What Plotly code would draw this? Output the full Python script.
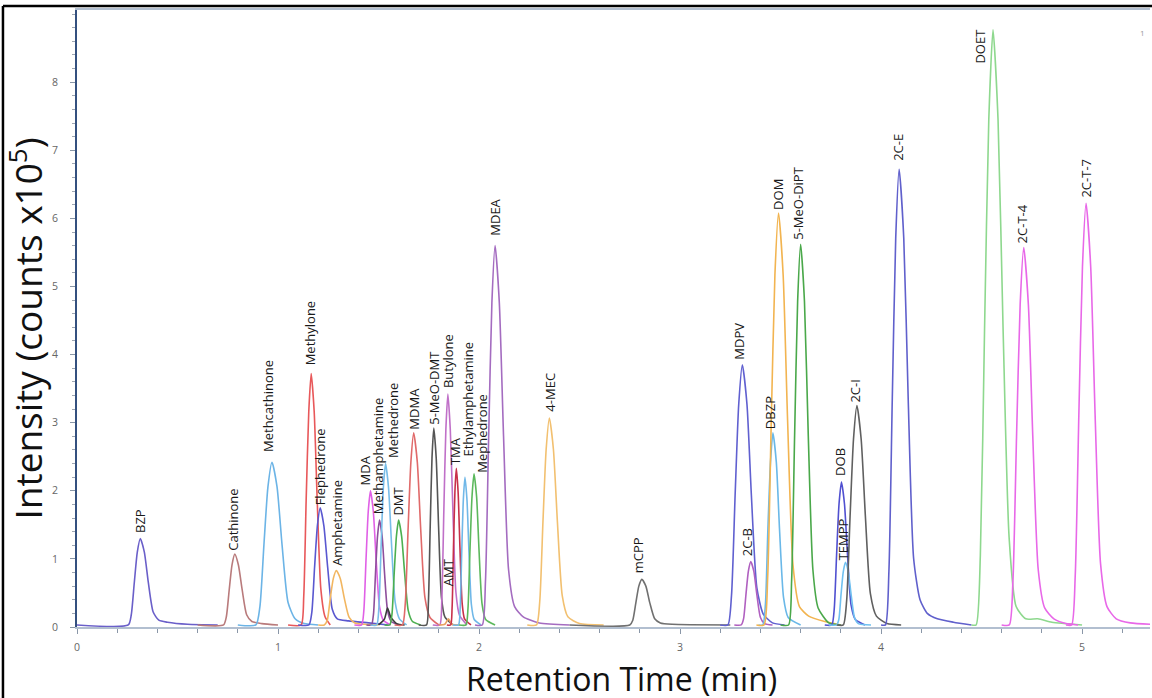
import plotly.graph_objects as go

# ---- data ----
compounds = ["BZP", "Cathinone", "Methcathinone", "Methylone", "Flephedrone", "Amphetamine",
             "MDA", "Methamphetamine", "Methedrone", "(unlabelled)", "DMT", "MDMA", "5-MeO-DMT",
             "Butylone", "AMT", "TMA", "Ethylamphetamine", "Mephedrone", "MDEA", "4-MEC", "mCPP",
             "MDPV", "2C-B", "DBZP", "DOM", "5-MeO-DiPT", "DOB", "TEMPP", "2C-I", "2C-E", "DOET",
             "2C-T-4", "2C-T-7"]

colors = ["#6a5fc9", "#b97b7c", "#6cb4e6", "#e8585a", "#5a58d0", "#f2b660",
          "#e060e6", "#8e4f9c", "#78bde8", "#3a3a3a", "#4caf50", "#e06a6a", "#555555",
          "#c070c8", "#e8a060", "#c8304a", "#70b8e8", "#5cb85c", "#a46cc0", "#f2c070", "#707070",
          "#6060d0", "#b060c0", "#6ab8e8", "#f2b450", "#4aa84a", "#5050d0", "#70c0f0", "#606060",
          "#6060cc", "#8ed88e", "#e868e8", "#e868e8"]

# retention time (min) points of each trace
times = [
    [0.0, 0.255, 0.27, 0.285, 0.30, 0.315, 0.335, 0.355, 0.379, 0.407, 0.45, 0.55, 0.7],
    [0.6, 0.729, 0.743, 0.757, 0.771, 0.785, 0.803, 0.822, 0.844, 0.87, 0.92, 1.0],
    [0.8, 0.89, 0.91, 0.93, 0.95, 0.97, 0.995, 1.02, 1.05, 1.085, 1.13, 1.2],
    [1.05, 1.115, 1.128, 1.14, 1.153, 1.165, 1.18, 1.195, 1.213, 1.234, 1.26],
    [1.1, 1.154, 1.168, 1.182, 1.196, 1.21, 1.228, 1.247, 1.27, 1.295, 1.35, 1.45, 1.55],
    [1.2, 1.23, 1.245, 1.26, 1.275, 1.29, 1.31, 1.33, 1.354, 1.382, 1.43, 1.5],
    [1.38, 1.416, 1.427, 1.438, 1.449, 1.46, 1.474, 1.488, 1.505, 1.524, 1.56],
    [1.44, 1.465, 1.475, 1.485, 1.495, 1.505, 1.518, 1.53, 1.545, 1.563, 1.6],
    [1.46, 1.491, 1.502, 1.513, 1.524, 1.535, 1.55, 1.565, 1.583, 1.604, 1.64],
    [1.50, 1.53, 1.545, 1.56, 1.59, 1.63],
    [1.53, 1.556, 1.567, 1.578, 1.589, 1.60, 1.615, 1.63, 1.648, 1.669, 1.71],
    [1.58, 1.619, 1.633, 1.647, 1.661, 1.675, 1.693, 1.71, 1.731, 1.756, 1.8],
    [1.7, 1.739, 1.748, 1.757, 1.766, 1.775, 1.787, 1.799, 1.813, 1.83, 1.87],
    [1.77, 1.805, 1.815, 1.825, 1.835, 1.845, 1.857, 1.87, 1.885, 1.903, 1.94],
    [1.8, 1.83, 1.848, 1.865, 1.9],
    [1.84, 1.859, 1.866, 1.873, 1.88, 1.887, 1.896, 1.905, 1.916, 1.928, 1.96],
    [1.87, 1.898, 1.906, 1.914, 1.922, 1.93, 1.94, 1.95, 1.962, 1.976, 2.01],
    [1.9, 1.935, 1.945, 1.955, 1.965, 1.975, 1.988, 2.0, 2.015, 2.033, 2.08],
    [1.98, 2.016, 2.032, 2.048, 2.064, 2.08, 2.101, 2.122, 2.147, 2.177, 2.22, 2.3, 2.45],
    [2.24, 2.286, 2.302, 2.318, 2.334, 2.35, 2.37, 2.39, 2.414, 2.442, 2.5, 2.62],
    [2.45, 2.75, 2.765, 2.78, 2.795, 2.81, 2.83, 2.85, 2.874, 2.902, 2.96, 3.25],
    [3.2, 3.238, 3.256, 3.274, 3.292, 3.31, 3.333, 3.355, 3.382, 3.414, 3.46, 3.52],
    [3.27, 3.304, 3.316, 3.328, 3.34, 3.352, 3.367, 3.382, 3.4, 3.421, 3.46],
    [3.39, 3.412, 3.425, 3.437, 3.45, 3.462, 3.479, 3.495, 3.515, 3.538, 3.6],
    [3.38, 3.418, 3.436, 3.454, 3.472, 3.49, 3.513, 3.535, 3.562, 3.594, 3.64, 3.72, 3.8],
    [3.5, 3.54, 3.555, 3.57, 3.585, 3.60, 3.619, 3.638, 3.661, 3.687, 3.74, 3.8],
    [3.72, 3.755, 3.767, 3.779, 3.791, 3.803, 3.818, 3.833, 3.851, 3.872, 3.92],
    [3.74, 3.779, 3.79, 3.801, 3.812, 3.823, 3.837, 3.851, 3.868, 3.887, 3.95],
    [3.78, 3.812, 3.829, 3.846, 3.863, 3.88, 3.901, 3.922, 3.947, 3.977, 4.03, 4.1],
    [4.0, 4.022, 4.039, 4.056, 4.073, 4.09, 4.113, 4.135, 4.162, 4.194, 4.23, 4.28, 4.36, 4.45],
    [4.45, 4.473, 4.494, 4.515, 4.536, 4.557, 4.582, 4.607, 4.637, 4.672, 4.72, 4.78, 4.85, 5.0],
    [4.6, 4.638, 4.656, 4.674, 4.692, 4.71, 4.733, 4.755, 4.782, 4.814, 4.86, 4.92, 4.98],
    [4.92, 4.948, 4.966, 4.984, 5.002, 5.02, 5.043, 5.065, 5.092, 5.124, 5.17, 5.24, 5.34],
]

# intensity (counts x10^5) at those points
intensities = [
    [0.03, 0.03, 0.18, 0.65, 1.10, 1.30, 1.10, 0.65, 0.22, 0.10, 0.07, 0.04, 0.03],
    [0.03, 0.03, 0.15, 0.54, 0.91, 1.07, 0.91, 0.54, 0.18, 0.08, 0.05, 0.03],
    [0.03, 0.03, 0.30, 1.21, 2.06, 2.42, 2.06, 1.21, 0.36, 0.12, 0.05, 0.03],
    [0.03, 0.03, 0.45, 1.86, 3.16, 3.72, 3.16, 1.86, 0.56, 0.15, 0.03],
    [0.03, 0.03, 0.21, 0.88, 1.49, 1.75, 1.49, 0.88, 0.26, 0.12, 0.09, 0.06, 0.03],
    [0.03, 0.03, 0.10, 0.42, 0.71, 0.83, 0.71, 0.42, 0.14, 0.06, 0.04, 0.03],
    [0.03, 0.03, 0.24, 1.00, 1.70, 2.00, 1.70, 1.00, 0.30, 0.10, 0.03],
    [0.03, 0.03, 0.19, 0.79, 1.33, 1.57, 1.33, 0.79, 0.24, 0.08, 0.03],
    [0.03, 0.03, 0.29, 1.20, 2.04, 2.40, 2.04, 1.20, 0.36, 0.12, 0.03],
    [0.03, 0.12, 0.28, 0.15, 0.05, 0.03],
    [0.03, 0.03, 0.19, 0.79, 1.33, 1.57, 1.33, 0.79, 0.24, 0.08, 0.03],
    [0.03, 0.03, 0.34, 1.43, 2.42, 2.85, 2.42, 1.43, 0.43, 0.14, 0.03],
    [0.03, 0.03, 0.35, 1.46, 2.48, 2.92, 2.48, 1.46, 0.44, 0.15, 0.03],
    [0.03, 0.03, 0.41, 1.71, 2.90, 3.42, 2.90, 1.71, 0.51, 0.17, 0.03],
    [0.03, 0.04, 0.12, 0.04, 0.03],
    [0.03, 0.03, 0.28, 1.17, 1.98, 2.33, 1.98, 1.17, 0.35, 0.12, 0.03],
    [0.03, 0.03, 0.26, 1.10, 1.87, 2.20, 1.87, 1.10, 0.33, 0.11, 0.03],
    [0.03, 0.03, 0.27, 1.13, 1.91, 2.25, 1.91, 1.13, 0.34, 0.11, 0.03],
    [0.03, 0.03, 0.67, 2.80, 4.76, 5.60, 4.76, 2.80, 0.84, 0.30, 0.15, 0.06, 0.03],
    [0.03, 0.03, 0.37, 1.54, 2.61, 3.07, 2.61, 1.54, 0.46, 0.15, 0.05, 0.03],
    [0.03, 0.03, 0.10, 0.35, 0.60, 0.70, 0.60, 0.35, 0.12, 0.06, 0.04, 0.03],
    [0.03, 0.03, 0.46, 1.93, 3.27, 3.85, 3.27, 1.93, 0.58, 0.19, 0.06, 0.03],
    [0.03, 0.03, 0.12, 0.48, 0.82, 0.96, 0.82, 0.48, 0.14, 0.05, 0.03],
    [0.03, 0.03, 0.34, 1.43, 2.42, 2.85, 2.42, 1.43, 0.43, 0.14, 0.03],
    [0.03, 0.03, 0.73, 3.04, 5.17, 6.08, 5.17, 3.04, 0.91, 0.30, 0.16, 0.08, 0.03],
    [0.03, 0.03, 0.67, 2.81, 4.78, 5.62, 4.78, 2.81, 0.84, 0.28, 0.06, 0.03],
    [0.03, 0.03, 0.26, 1.07, 1.81, 2.13, 1.81, 1.07, 0.32, 0.11, 0.03],
    [0.03, 0.03, 0.11, 0.48, 0.81, 0.95, 0.81, 0.48, 0.14, 0.05, 0.03],
    [0.03, 0.03, 0.39, 1.63, 2.76, 3.25, 2.76, 1.63, 0.49, 0.16, 0.05, 0.03],
    [0.03, 0.03, 0.81, 3.36, 5.71, 6.72, 5.71, 3.36, 1.01, 0.40, 0.20, 0.12, 0.07, 0.03],
    [0.03, 0.03, 1.05, 4.39, 7.45, 8.77, 7.45, 4.39, 1.32, 0.30, 0.12, 0.12, 0.07, 0.03],
    [0.03, 0.03, 0.67, 2.79, 4.73, 5.57, 4.73, 2.79, 0.84, 0.28, 0.12, 0.05, 0.03],
    [0.03, 0.03, 0.75, 3.11, 5.29, 6.22, 5.29, 3.11, 0.93, 0.30, 0.12, 0.06, 0.04],
]

# peak labels: text, x (min), y of text bottom (counts x10^5)
label_text = ["BZP", "Cathinone", "Methcathinone", "Methylone", "Flephedrone", "Amphetamine",
              "MDA", "Methamphetamine", "Methedrone", "DMT", "MDMA", "5-MeO-DMT", "Butylone",
              "AMT", "TMA", "Ethylamphetamine", "Mephedrone", "MDEA", "4-MEC", "mCPP", "MDPV",
              "2C-B", "DBZP", "DOM", "5-MeO-DiPT", "DOB", "TEMPP", "2C-I", "2C-E", "DOET",
              "2C-T-4", "2C-T-7"]
label_x = [0.313, 0.776, 0.95, 1.159, 1.209, 1.294, 1.433, 1.498, 1.572, 1.597, 1.672, 1.776,
           1.846, 1.846, 1.881, 1.945, 2.015, 2.08, 2.353, 2.791, 3.289, 3.333, 3.448, 3.488,
           3.587, 3.796, 3.811, 3.871, 4.085, 4.492, 4.701, 5.015]
label_y = [1.35, 1.09, 2.54, 3.82, 1.75, 0.87, 2.05, 1.62, 2.46, 1.6, 2.87, 2.94, 3.48,
           0.57, 2.35, 2.48, 2.23, 5.71, 3.14, 0.76, 3.89, 1.01, 2.87, 6.09, 5.65, 2.19,
           0.95, 3.26, 6.81, 8.25, 5.61, 6.27]

x_ticks = [0, 1, 2, 3, 4, 5]
y_ticks = [0, 1, 2, 3, 4, 5, 6, 7, 8]

fig = go.Figure()
for name, col, t, v in zip(compounds, colors, times, intensities):
    fig.add_trace(go.Scatter(x=t, y=v, mode="lines", name=name,
                             line=dict(color=col, width=1.6, shape="spline", smoothing=0.6),
                             hoverinfo="name+x+y"))

for txt, lx, ly in zip(label_text, label_x, label_y):
    fig.add_annotation(x=lx, y=ly, text=txt, showarrow=False, textangle=-90,
                       xanchor="center", yanchor="bottom",
                       font=dict(family="Open Sans", size=13, color="#1a1a1a"))

# axis titles
fig.add_annotation(xref="paper", yref="paper", x=0.507, y=-0.084, text="Retention Time (min)",
                   showarrow=False, xanchor="center", yanchor="middle",
                   font=dict(family="Open Sans", size=32, color="#111111"))
fig.add_annotation(xref="paper", yref="paper", x=-0.047, y=0.483,
                   text="Intensity (counts x10<sup>5</sup>)", textangle=-90,
                   showarrow=False, xanchor="center", yanchor="middle",
                   font=dict(family="Open Sans", size=37, color="#111111"))
fig.add_annotation(xref="paper", yref="paper", x=0.997, y=0.963, text="1", showarrow=False,
                   xanchor="right", yanchor="middle",
                   font=dict(family="Open Sans", size=8, color="#999999"))

# outer black frame (left and top)
fig.add_shape(type="line", xref="paper", yref="paper", x0=-0.069, x1=-0.069, y0=-0.14, y1=1.0065,
              line=dict(color="black", width=2.5))
fig.add_shape(type="line", xref="paper", yref="paper", x0=-0.069, x1=1.01, y0=1.0065, y1=1.0065,
              line=dict(color="black", width=2.5))

fig.update_layout(
    width=1152, height=698,
    margin=dict(l=77, r=2, t=10, b=71),
    paper_bgcolor="white", plot_bgcolor="white",
    showlegend=False,
    xaxis=dict(range=[0, 5.338], tickvals=x_ticks, ticks="outside", ticklen=5, tickcolor="#8a97a8",
               showgrid=False, zeroline=False, showline=True, linecolor="#b2bfd0", linewidth=1.5,
               mirror=True, ticklabelstandoff=5,
               tickfont=dict(family="Open Sans", size=10.5, color="#666666"),
               minor=dict(dtick=0.2, ticks="outside", ticklen=4, tickcolor="#8a97a8", showgrid=False)),
    yaxis=dict(range=[0, 9.06], tickvals=y_ticks, ticks="outside", ticklen=5, tickcolor="#8a97a8",
               showgrid=False, zeroline=False, showline=True, linecolor="#34507f", linewidth=2,
               ticklabelstandoff=10,
               tickfont=dict(family="Open Sans", size=10.5, color="#666666"),
               minor=dict(dtick=0.2, ticks="outside", ticklen=3, tickcolor="#a0a8b4", showgrid=False)),
)

fig.write_html("out.html", config={"displayModeBar": False},
               post_script="document.body.style.margin='0';document.body.style.overflow='hidden';")
